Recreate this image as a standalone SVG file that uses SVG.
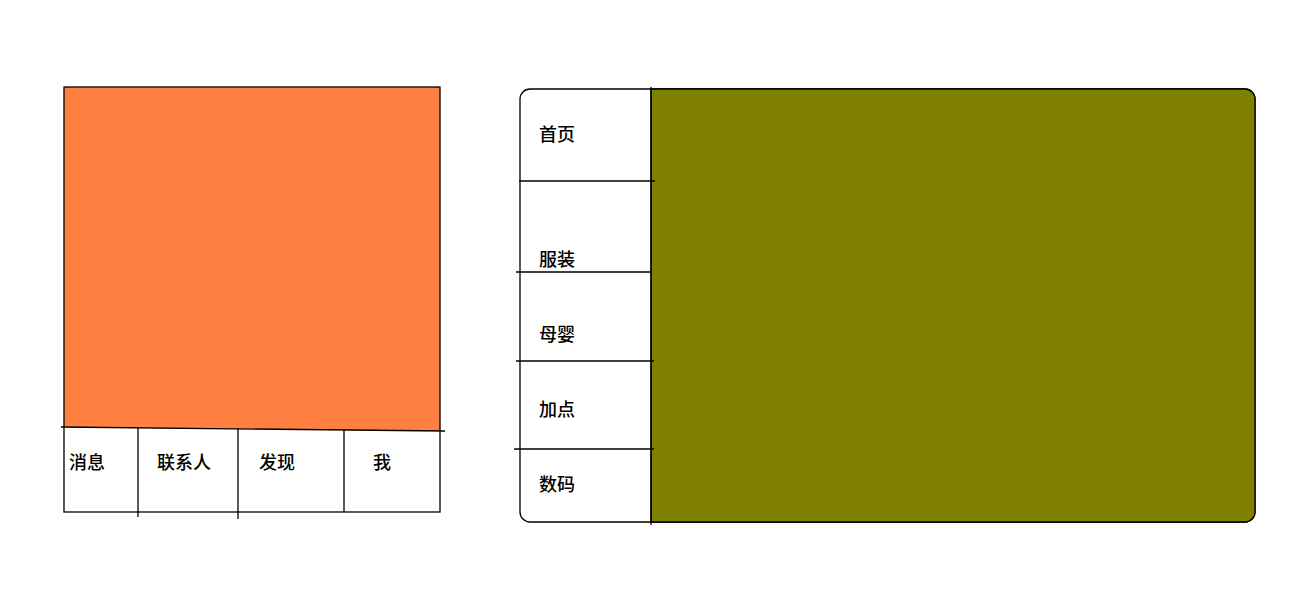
<svg xmlns="http://www.w3.org/2000/svg" width="1295" height="595" viewBox="0 0 1295 595">
<style>
.ln{stroke:#000;stroke-width:1.3;fill:none}
.t{font-family:"Noto Sans CJK SC","Liberation Sans",sans-serif;font-size:18px;font-weight:500;fill:#000;dominant-baseline:central}
</style>
<rect width="1295" height="595" fill="#fff"/>
<g id="phone">
<polygon points="64,87 440,87 440,431 64,427" fill="#FF8040"/>
<rect x="64" y="87" width="376" height="425" class="ln"/>
</g>
<g id="tabs">
<text class="t" x="69" y="461">消息</text>
<text class="t" x="157" y="461">联系人</text>
<text class="t" x="259" y="461">发现</text>
<text class="t" x="373" y="461">我</text>
</g>
<g id="shop">
<rect x="520" y="89" width="735" height="433" rx="10" fill="#fff" class="ln"/>
<path d="M651,89 H1245 A10,10 0 0 1 1255,99 V512 A10,10 0 0 1 1245,522 H651 Z" fill="#808000" stroke="#000" stroke-width="1.3"/>
</g>
<g id="menu">
<text class="t" x="539" y="133">首页</text>
<text class="t" x="539" y="258">服装</text>
<text class="t" x="539" y="333">母婴</text>
<text class="t" x="539" y="408">加点</text>
<text class="t" x="539" y="483">数码</text>
</g>
<g id="connectors">
<line class="ln" x1="61" y1="427" x2="445" y2="431"/>
<line class="ln" x1="138" y1="427" x2="138" y2="517"/>
<line class="ln" x1="238" y1="428" x2="238" y2="519"/>
<line class="ln" x1="344" y1="430" x2="344" y2="512"/>
<line class="ln" x1="651" y1="87" x2="651" y2="525"/>
<line class="ln" x1="519" y1="181" x2="655" y2="181"/>
<line class="ln" x1="516" y1="272" x2="651" y2="272"/>
<line class="ln" x1="516" y1="361" x2="654" y2="361"/>
<line class="ln" x1="514" y1="449" x2="654" y2="449"/>
</g>
</svg>
